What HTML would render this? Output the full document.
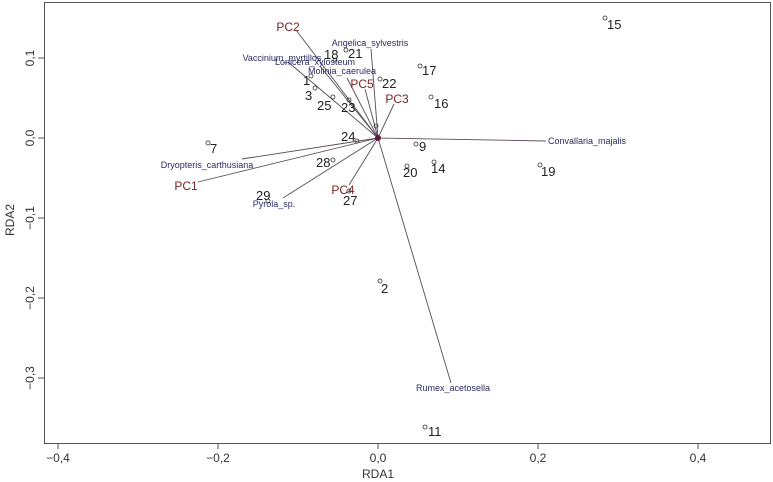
<!DOCTYPE html>
<html><head><meta charset="utf-8"><style>
body{margin:0;background:#fff}
svg{display:block;font-family:"Liberation Sans",sans-serif}
.sp{fill:#2b2b66;font-size:9px;text-anchor:middle}
.pc{fill:#7a2525;font-size:12px;text-anchor:middle}
.n{fill:#222;font-size:13px}
.t{fill:#333;font-size:12px}
</style></head><body>
<svg width="773" height="482" viewBox="0 0 773 482">
<rect x="44.5" y="2.5" width="726" height="441" fill="none" stroke="#555" stroke-width="1"/>
<g stroke="#555">
<line x1="58" y1="443" x2="58" y2="449"/><line x1="218" y1="443" x2="218" y2="449"/><line x1="378" y1="443" x2="378" y2="449"/><line x1="538" y1="443" x2="538" y2="449"/><line x1="698" y1="443" x2="698" y2="449"/>
<line x1="38" y1="58" x2="44" y2="58"/><line x1="38" y1="138" x2="44" y2="138"/><line x1="38" y1="218" x2="44" y2="218"/><line x1="38" y1="298" x2="44" y2="298"/><line x1="38" y1="378" x2="44" y2="378"/>
</g>
<g class="t" text-anchor="middle">
<text x="58" y="462">−0,4</text><text x="218" y="462">−0,2</text><text x="378" y="462">0,0</text><text x="538" y="462">0,2</text><text x="698" y="462">0,4</text>
<text x="378" y="478">RDA1</text>
<text transform="translate(34,58) rotate(-90)">0,1</text>
<text transform="translate(34,138) rotate(-90)">0,0</text>
<text transform="translate(34,218) rotate(-90)">−0,1</text>
<text transform="translate(34,298) rotate(-90)">−0,2</text>
<text transform="translate(34,378) rotate(-90)">−0,3</text>
<text transform="translate(14,220) rotate(-90)">RDA2</text>
</g>
<g stroke="#5a4a5a" stroke-width="0.9" fill="none">
<line x1="378" y1="138" x2="546" y2="141"/>
<line x1="378" y1="138" x2="451" y2="383"/>
<line x1="378" y1="138" x2="296" y2="30"/>
<line x1="378" y1="138" x2="371" y2="49"/>
<line x1="378" y1="138" x2="288" y2="62"/>
<line x1="378" y1="138" x2="320" y2="66"/>
<line x1="378" y1="138" x2="347" y2="78"/>
<line x1="378" y1="138" x2="365" y2="89"/>
<line x1="378" y1="138" x2="394" y2="104"/>
<line x1="378" y1="138" x2="242" y2="159"/>
<line x1="378" y1="138" x2="198" y2="182"/>
<line x1="378" y1="138" x2="283" y2="198"/>
<line x1="378" y1="138" x2="349" y2="185"/>
</g>
<circle cx="378" cy="138" r="3" fill="#5a1a3a"/>
<g class="sp">
<text x="587" y="144">Convallaria_majalis</text>
<text x="453" y="391">Rumex_acetosella</text>
<text x="370" y="46">Angelica_sylvestris</text>
<text x="282" y="61">Vaccinium_myrtillos</text>
<text x="315" y="65">Lonicera_xylosteum</text>
<text x="342" y="74">Molinia_caerulea</text>
<text x="207" y="168">Dryopteris_carthusiana</text>
<text x="274" y="207">Pyrola_sp.</text>
</g>
<g class="pc">
<text x="288" y="31">PC2</text>
<text x="362" y="88">PC5</text>
<text x="397" y="103">PC3</text>
<text x="186" y="190">PC1</text>
<text x="343" y="194">PC4</text>
</g>
<g fill="none" stroke="#333" stroke-width="0.8">
<circle cx="416" cy="144" r="2"/><circle cx="407" cy="166" r="2"/><circle cx="434" cy="162" r="2"/><circle cx="540" cy="165" r="2"/><circle cx="380" cy="281" r="2"/><circle cx="425" cy="427" r="2"/><circle cx="431" cy="97" r="2"/><circle cx="605" cy="18" r="2"/><circle cx="420" cy="66" r="2"/><circle cx="346" cy="50" r="2"/><circle cx="335" cy="60" r="2"/><circle cx="311" cy="76" r="2"/><circle cx="380" cy="79" r="2"/><circle cx="315" cy="88" r="2"/><circle cx="333" cy="97" r="2"/><circle cx="349" cy="100" r="2"/><circle cx="357" cy="141" r="2"/><circle cx="208" cy="143" r="2"/><circle cx="333" cy="160" r="2"/><circle cx="268" cy="201" r="2"/><circle cx="349" cy="191" r="2"/><circle cx="376" cy="126" r="2"/>
</g>
<g class="n">
<text x="419" y="151">9</text><text x="403" y="177">20</text><text x="431" y="173">14</text><text x="541" y="176">19</text><text x="381" y="293">2</text><text x="428" y="436">11</text><text x="434" y="108">16</text><text x="607" y="29">15</text><text x="422" y="75">17</text><text x="348" y="58">21</text><text x="324" y="59">18</text><text x="303" y="85">1</text><text x="382" y="88">22</text><text x="305" y="100">3</text><text x="317" y="110">25</text><text x="341" y="112">23</text><text x="341" y="141">24</text><text x="210" y="153">7</text><text x="316" y="167">28</text><text x="256" y="200">29</text><text x="343" y="205">27</text>
</g>
</svg>
</body></html>
